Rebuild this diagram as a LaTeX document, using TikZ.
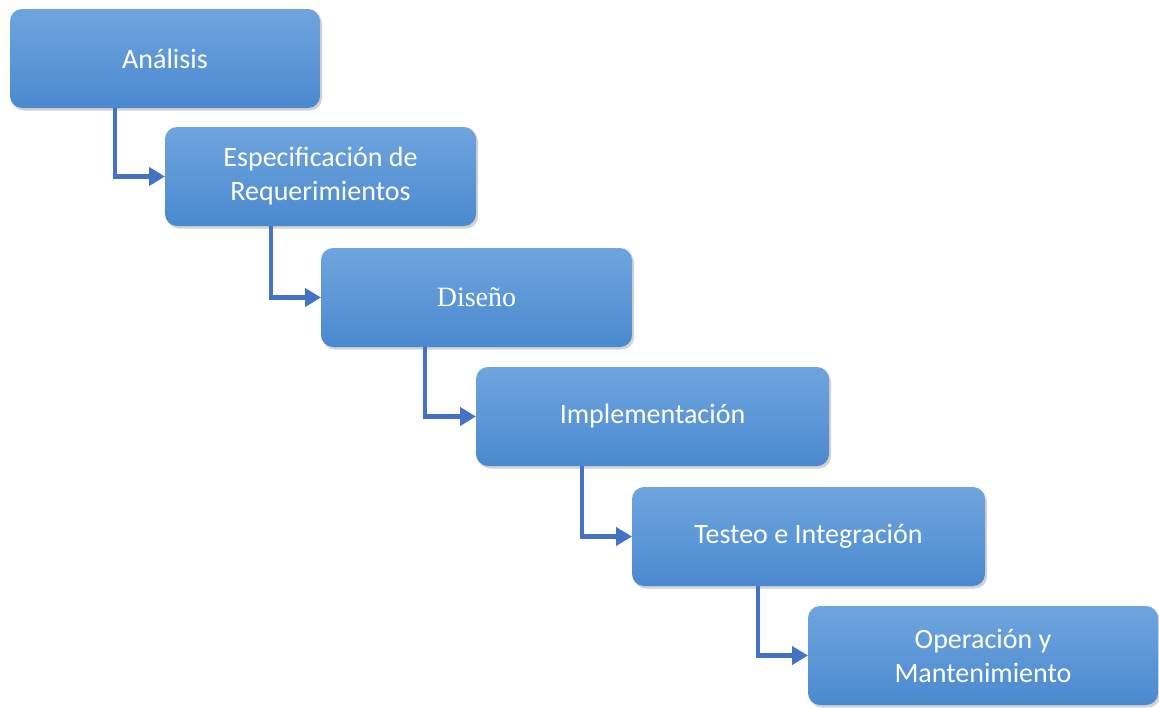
\documentclass[tikz,border=0pt]{standalone}
\usepackage{fontspec}
\setmainfont{Carlito}
\newfontfamily\timesfont{Liberation Serif}
\usetikzlibrary{arrows.meta,shadows}
\definecolor{boxtop}{HTML}{6FA5DE}
\definecolor{boxbot}{HTML}{4A89CF}
\definecolor{conncol}{HTML}{4472C4}
\tikzset{
  stage/.style={rectangle, rounded corners=12pt, top color=boxtop, bottom color=boxbot,
    draw=none, text=white, align=center, anchor=north west, inner sep=0pt, outer sep=0pt,
    minimum height=99pt, font=\fontsize{28}{34}\selectfont,
    drop shadow={opacity=0.35, shadow xshift=2pt, shadow yshift=-2.5pt}},
  conn/.style={draw=conncol, line width=4.5pt, -{Triangle[length=16pt,width=18pt]}}
}
\begin{document}
\begin{tikzpicture}[x=1pt,y=-1pt]
\useasboundingbox[fill=white] (0,0) rectangle (1159,707);
\node[stage, minimum width=310pt] (a) at (10,9) {Análisis};
\node[stage, minimum width=311pt] (b) at (165,127) {Especificación de\\Requerimientos};
\node[stage, minimum width=311pt] (c) at (321,248) {\timesfont Diseño};
\node[stage, minimum width=353pt] (d) at (476,367) {Implementación};
\node[stage, minimum width=353pt] (e) at (632,487) {Testeo e Integración};
\node[stage, minimum width=350pt] (f) at (808,606) {Operación y\\Mantenimiento};
\draw[conn] ([xshift=105pt]a.south west) |- (b.west);
\draw[conn] ([xshift=106pt]b.south west) |- (c.west);
\draw[conn] ([xshift=104pt]c.south west) |- (d.west);
\draw[conn] ([xshift=106pt]d.south west) |- (e.west);
\draw[conn] ([xshift=126pt]e.south west) |- (f.west);
\end{tikzpicture}
\end{document}
